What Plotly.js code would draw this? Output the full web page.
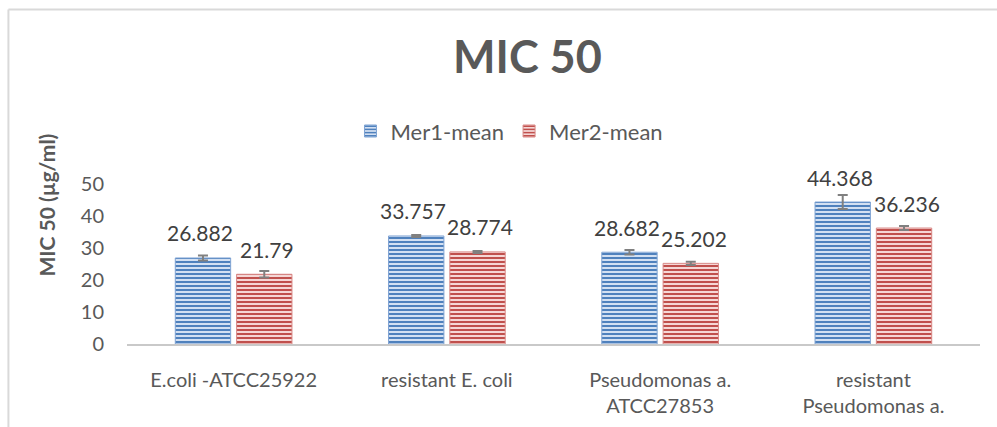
<!DOCTYPE html>
<html>
<head>
<meta charset="utf-8">
<script src="https://cdn.plot.ly/plotly-3.0.1.min.js"></script>
<style>
  html, body { margin: 0; padding: 0; background: #fff; }
  #chart { width: 997px; height: 427px; }
</style>
</head>
<body>
<div id="chart"></div>
<script>
// ---- data ----
const categories = ["E.coli -ATCC25922", "resistant E. coli", "Pseudomonas a.<br>ATCC27853", "resistant<br>Pseudomonas a."];
const mer1Mean = [26.882, 33.757, 28.682, 44.368];
const mer1Err = [0.8, 0.3, 0.7, 2.2];
const mer2Mean = [21.79, 28.774, 25.202, 36.236];
const mer2Err = [1.0, 0.3, 0.5, 0.6];
const yTicks = [0, 10, 20, 30, 40, 50];

const FONT = "Lato, 'Open Sans', sans-serif";
const GREY = "#595959";

function barTrace(name, y, err, fg, bg, line) {
  return {
    type: "bar", name: name, x: categories, y: y,
    marker: {
      color: bg,
      line: { color: line, width: 1 },
      pattern: { shape: "-", fgcolor: fg, bgcolor: bg, size: 4, solidity: 0.5 }
    },
    error_y: { type: "data", array: err, visible: true, color: "#808080", thickness: 2, width: 5 },
    hoverinfo: "skip"
  };
}

const traces = [
  barTrace("Mer1-mean", mer1Mean, mer1Err, "#4f81bd", "#d3e0f2", "#7fa3d3"),
  barTrace("Mer2-mean", mer2Mean, mer2Err, "#c0504d", "#f5d7d6", "#d98886")
];

// data labels above bars
const annotations = [];
const series = [mer1Mean, mer2Mean];
const shifts = [-33.5, 33.5];
series.forEach((vals, s) => {
  vals.forEach((v, i) => {
    annotations.push({
      x: categories[i], y: v, xref: "x", yref: "y",
      text: String(v), showarrow: false,
      xshift: shifts[s], yshift: 25, yanchor: "middle",
      font: { family: FONT, size: 21, color: "#404040" }
    });
  });
});
annotations.push({
  xref: "paper", yref: "paper", x: -0.094, y: 0.87,
  text: "<b>MIC 50 (µg/ml)</b>", textangle: -90, showarrow: false,
  xanchor: "center", yanchor: "middle",
  font: { family: FONT, size: 21, color: GREY }
});

const layout = {
  width: 997, height: 427,
  margin: { l: 127, r: 17, t: 184, b: 83 },
  paper_bgcolor: "#fff", plot_bgcolor: "#fff",
  title: {
    text: "<b>MIC 50</b>", xref: "container", x: 0.529, xanchor: "center",
    yref: "container", y: 0.866, yanchor: "middle",
    font: { family: FONT, size: 45, color: GREY }
  },
  barmode: "group", bargap: 0.425, bargroupgap: 0.097,
  showlegend: true,
  legend: {
    orientation: "h", x: 0.262, xanchor: "left", y: 1.33, yanchor: "middle",
    font: { family: FONT, size: 22, color: GREY },
    itemwidth: 30, traceorder: "normal"
  },
  xaxis: {
    type: "category", showgrid: false, zeroline: false,
    showline: true, linecolor: "#c9c9c9", linewidth: 2,
    ticks: "", ticklabelstandoff: 17,
    tickfont: { family: FONT, size: 20, color: GREY }
  },
  yaxis: {
    range: [0, 50], tickvals: yTicks, ticktext: yTicks.map(String),
    showgrid: false, zeroline: false, showline: false,
    ticks: "", ticklabelstandoff: 22,
    tickfont: { family: FONT, size: 20, color: GREY }
  },
  shapes: [
    { type: "line", xref: "paper", yref: "paper", x0: -0.139, x1: 1.03, y0: 2.09, y1: 2.09,
      line: { color: "#d9d9d9", width: 2 } },
    { type: "line", xref: "paper", yref: "paper", x0: -0.139, x1: -0.139, y0: 2.09, y1: -0.6,
      line: { color: "#d9d9d9", width: 2 } }
  ],
  annotations: annotations
};

Plotly.newPlot("chart", traces, layout, { displayModeBar: false, staticPlot: true });
</script>
</body>
</html>
